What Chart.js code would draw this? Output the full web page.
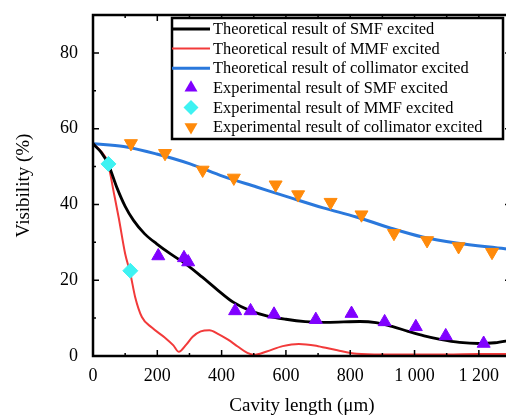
<!DOCTYPE html>
<html>
<head>
<meta charset="utf-8">
<script src="https://cdn.jsdelivr.net/npm/chart.js@4.4.1/dist/chart.umd.min.js"></script>
<style>
  html, body { margin: 0; padding: 0; background: #fff; overflow: hidden; }
  #wrap { width: 520px; height: 418px; }
</style>
</head>
<body>
<div id="wrap"><canvas id="c" width="520" height="418"></canvas></div>
<script>
const xTicks = [0, 200, 400, 600, 800, 1000, 1200];
const xTickLabels = ['0', '200', '400', '600', '800', '1 000', '1 200'];
const yTicks = [0, 20, 40, 60, 80];

// theoretical curves
const smfX = [0, 25, 48, 74, 100, 126, 160, 198, 240, 290, 340, 385, 436, 490, 540, 600, 660, 720, 780, 830, 880, 930, 980, 1030, 1080, 1140, 1200, 1250, 1300];
const smfY = [56, 53.8, 50.5, 44.5, 39.5, 35.8, 32.3, 29.6, 27, 24.2, 20.8, 17.6, 14.2, 11.9, 10.6, 9.7, 9.1, 8.9, 9.0, 9.1, 8.8, 7.8, 6.5, 5.3, 4.4, 3.6, 3.3, 3.5, 4.2];
const mmfX = [0, 25, 46, 65, 80, 100, 116, 131, 152, 183, 224, 250, 267, 290, 310, 335, 362, 390, 420, 450, 480, 500, 540, 590, 640, 700, 760, 820, 900, 1000, 1100, 1200, 1300];
const mmfY = [56, 54, 51, 43, 36.5, 27, 21.8, 15.6, 10.3, 7.5, 4.8, 2.8, 1.1, 3.0, 5.1, 6.5, 6.8, 5.8, 4.3, 2.5, 0.8, 0.3, 1.2, 2.6, 3.2, 2.6, 1.5, 0.6, 0.4, 0.4, 0.4, 0.5, 0.5];
const colX = [0, 95, 198, 302, 405, 509, 613, 716, 819, 924, 1025, 1130, 1281, 1300];
const colY = [56, 55.3, 53.3, 50.7, 47.4, 44.6, 41.8, 39.1, 36.7, 33.8, 31.4, 29.8, 28.3, 28.1];

// experimental points
const smfExpX = [203, 283, 296, 442, 490, 563, 693, 804, 907, 1004, 1097, 1215];
const smfExpY = [26.4, 25.9, 24.8, 11.9, 11.9, 11.0, 9.6, 11.2, 9.0, 7.7, 5.3, 3.3];
const mmfExpX = [48, 116];
const mmfExpY = [50.7, 22.5];
const colExpX = [118, 224, 341, 438, 568, 638, 739, 835, 936, 1039, 1137, 1241];
const colExpY = [56.1, 53.5, 49.1, 47.0, 45.2, 42.6, 40.6, 37.3, 32.4, 30.5, 28.9, 27.4];

const labels = [
  'Theoretical result of SMF excited',
  'Theoretical result of MMF excited',
  'Theoretical result of collimator excited',
  'Experimental result of SMF excited',
  'Experimental result of MMF excited',
  'Experimental result of collimator excited'
];

const pts = (xs, ys) => xs.map((x, i) => ({ x, y: ys[i] }));
const serif = 'Liberation Serif, Times New Roman, serif';

const line = (label, xs, ys, color, w) => ({
  type: 'line', label, data: pts(xs, ys), borderColor: color, borderWidth: w,
  pointRadius: 0, fill: false, tension: 0.4, cubicInterpolationMode: 'monotone', order: 2
});
const marks = (label, xs, ys, color, style, r, rot) => ({
  type: 'scatter', label, data: pts(xs, ys), showLine: false, backgroundColor: color,
  borderColor: color, borderWidth: 1, pointStyle: style, pointRadius: r, pointRotation: rot || 0, order: 1
});

const datasets = [
  line(labels[0], smfX, smfY, '#000000', 2.8),
  line(labels[1], mmfX, mmfY, '#f23a3a', 2),
  line(labels[2], colX, colY, '#2a78dc', 3),
  marks(labels[3], smfExpX, smfExpY, '#8000ff', 'triangle', 7.5),
  marks(labels[4], mmfExpX, mmfExpY, '#3ef2f2', 'rectRot', 7.5),
  marks(labels[5], colExpX, colExpY, '#ff8a0a', 'triangle', 7.5, 180)
];

function marker(ctx, style, x, y, r, rot, color) {
  ctx.save();
  ctx.fillStyle = color;
  ctx.beginPath();
  if (style === 'rectRot') {
    ctx.moveTo(x - r, y); ctx.lineTo(x, y - r); ctx.lineTo(x + r, y); ctx.lineTo(x, y + r);
  } else {
    const a0 = (rot || 0) * Math.PI / 180;
    for (let k = 0; k < 3; k++) {
      const a = a0 + k * 2 * Math.PI / 3;
      const px = x + Math.sin(a) * r, py = y - Math.cos(a) * r;
      k ? ctx.lineTo(px, py) : ctx.moveTo(px, py);
    }
  }
  ctx.closePath();
  ctx.fill();
  ctx.restore();
}

const frame = {
  id: 'frame',
  afterDatasetsDraw(chart) {
    const { ctx, chartArea: a, scales: { x, y } } = chart;
    ctx.save();
    ctx.strokeStyle = '#000';
    ctx.lineWidth = 1.5;
    ctx.beginPath();
    for (let v = 0; v <= 1300; v += 100) {
      const px = x.getPixelForValue(v), len = v % 200 === 0 ? 6 : 3;
      ctx.moveTo(px, a.bottom); ctx.lineTo(px, a.bottom - len);
      ctx.moveTo(px, a.top); ctx.lineTo(px, a.top + len);
    }
    for (let v = 10; v < 90; v += 10) {
      const py = y.getPixelForValue(v), len = v % 20 === 0 ? 6 : 3;
      ctx.moveTo(a.left, py); ctx.lineTo(a.left + len, py);
      ctx.moveTo(a.right, py); ctx.lineTo(a.right - len, py);
    }
    ctx.stroke();
    ctx.lineWidth = 2.5;
    ctx.strokeRect(a.left, a.top, a.right - a.left, a.bottom - a.top);
    ctx.restore();
  }
};

const legendBox = {
  id: 'legendBox',
  afterDraw(chart) {
    const { ctx, chartArea: a } = chart;
    const left = a.left + 79, top = a.top + 3, w = 331, h = 121;
    ctx.save();
    ctx.fillStyle = '#fff';
    ctx.fillRect(left, top, w, h);
    ctx.strokeStyle = '#000';
    ctx.lineWidth = 2.5;
    ctx.strokeRect(left, top, w, h);
    ctx.font = '16.4px ' + serif;
    ctx.textBaseline = 'middle';
    chart.data.datasets.forEach((ds, i) => {
      const ry = top + 11 + i * 19.6;
      if (ds.type === 'line') {
        ctx.strokeStyle = ds.borderColor;
        ctx.lineWidth = ds.borderWidth;
        ctx.beginPath();
        ctx.moveTo(left, ry); ctx.lineTo(left + 38, ry);
        ctx.stroke();
      } else {
        marker(ctx, ds.pointStyle, left + 19, ry, ds.pointRadius, ds.pointRotation, ds.backgroundColor);
      }
      ctx.fillStyle = '#000';
      ctx.fillText(ds.label, left + 41, ry + 1);
    });
    ctx.restore();
  }
};

new Chart(document.getElementById('c'), {
  data: { datasets },
  plugins: [frame, legendBox],
  options: {
    responsive: false,
    animation: false,
    layout: { padding: { top: 15, right: 9, left: 0, bottom: 0 } },
    plugins: { legend: { display: false }, tooltip: { enabled: false } },
    scales: {
      x: {
        type: 'linear', min: 0, max: 1300,
        afterBuildTicks: s => { s.ticks = xTicks.map(v => ({ value: v })); },
        afterFit: s => { s.height = 62; },
        ticks: { callback: (v, i) => xTickLabels[i], color: '#000', font: { family: serif, size: 18 }, padding: 9, maxRotation: 0, autoSkip: false },
        grid: { display: false, drawTicks: false },
        border: { display: false },
        title: { display: true, text: 'Cavity length (μm)', color: '#000', font: { family: serif, size: 19 }, padding: { top: 0, bottom: 1 } }
      },
      y: {
        type: 'linear', min: 0, max: 90,
        afterBuildTicks: s => { s.ticks = yTicks.map(v => ({ value: v })); },
        afterFit: s => { s.width = 93; s.paddingTop = 0; s.paddingBottom = 0; },
        ticks: { color: '#000', font: { family: serif, size: 18 }, padding: 15 },
        grid: { display: false, drawTicks: false },
        border: { display: false },
        title: { display: true, text: 'Visibility (%)', color: '#000', font: { family: serif, size: 19 }, padding: { top: 13, bottom: 0 } }
      }
    }
  }
});
</script>
</body>
</html>
